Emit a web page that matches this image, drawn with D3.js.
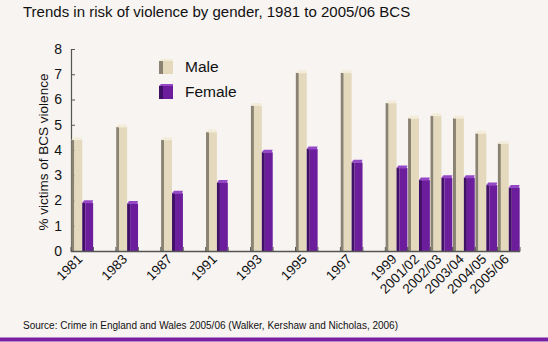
<!DOCTYPE html>
<html>
<head>
<meta charset="utf-8">
<script src="https://cdn.jsdelivr.net/npm/d3@7/dist/d3.min.js"></script>
<style>
html,body{margin:0;padding:0;background:#f7f4f1;}
svg{display:block;font-family:"Liberation Sans",Arial,sans-serif;}
</style>
</head>
<body>
<svg id="chart" width="548" height="342"></svg>
<script>
const categories = ["1981","1983","1987","1991","1993","1995","1997","1999","2001/02","2002/03","2003/04","2004/05","2005/06"];
const male   = [4.45, 4.95, 4.45, 4.75, 5.8, 7.1, 7.1, 5.9, 5.3, 5.4, 5.3, 4.7, 4.3];
const female = [1.95, 1.92, 2.33, 2.75, 3.95, 4.08, 3.55, 3.33, 2.85, 2.94, 2.94, 2.65, 2.55];
const seriesNames = ["Male","Female"];
const yTicks = [0,1,2,3,4,5,6,7,8];
const title = "Trends in risk of violence by gender, 1981 to 2005/06 BCS";
const yLabel = "% victims of BCS violence";
const source = "Source: Crime in England and Wales 2005/06 (Walker, Kershaw and Nicholas, 2006)";

const colors = {
  Male:   {front:"#e4d9bd", side:"#8b8372", top:"#f3ecd9"},
  Female: {front:"#6c1d9c", side:"#401066", top:"#9448c6"}
};

const svg = d3.select("#chart");
svg.append("rect").attr("width",548).attr("height",342).attr("fill","#f7f4f1");

const mLeft = 71, mRight = 520, mTop = 49, mBottom = 251;

// slot domain: the survey years before 1999 are separated by an empty slot
const slotDomain = [];
categories.forEach((c,i) => { slotDomain.push(c); if (i < 7) slotDomain.push("gap" + i); });
const x = d3.scaleBand().domain(slotDomain).range([mLeft, mRight]).padding(0);
const xs = d3.scaleBand().domain(seriesNames).range([0, x.bandwidth()]).paddingInner(0).paddingOuter(0.03);
const y = d3.scaleLinear().domain([0, 8]).range([mBottom, mTop]);

// title
svg.append("text").attr("x",23).attr("y",16.5).attr("font-size",15).attr("fill","#111").text(title);

// y axis
const yAxis = svg.append("g").attr("transform",`translate(${mLeft},0)`)
  .call(d3.axisLeft(y).tickValues(yTicks).tickFormat(d3.format("d")).tickSize(-4).tickPadding(9));
yAxis.select(".domain").attr("stroke","#555").attr("stroke-width",1.2);
yAxis.selectAll(".tick line").attr("stroke","#555");
yAxis.selectAll(".tick text").attr("font-size",14).attr("fill","#111").attr("font-family","Liberation Sans, Arial, sans-serif");

// y label
svg.append("text").attr("transform",`translate(48,${(mTop+mBottom)/2+2}) rotate(-90)`)
  .attr("text-anchor","middle").attr("font-size",13.5).attr("fill","#111").text(yLabel);

// bars
const data = [];
categories.forEach((c,i) => {
  data.push({cat:c, s:"Male", v:male[i]});
  data.push({cat:c, s:"Female", v:female[i]});
});
const side = 3, capH = 2.5;
const bars = svg.append("g");
data.forEach(d => {
  const x0 = x(d.cat) + xs(d.s);
  const bw = xs.bandwidth();
  const yt = y(d.v);
  const c = colors[d.s];
  const g = bars.append("g");
  g.append("rect").attr("x",x0).attr("y",yt+1).attr("width",side).attr("height",mBottom-yt-1).attr("fill",c.side);
  g.append("rect").attr("x",x0+side).attr("y",yt+1).attr("width",bw-side).attr("height",mBottom-yt-1).attr("fill",c.front);
  g.append("path").attr("d",`M${x0},${yt+1}L${x0+2},${yt-capH+1}L${x0+bw},${yt-capH+1}L${x0+bw-1},${yt+1.5}L${x0+side},${yt+1.5}Z`).attr("fill",c.top);
});

// x axis line with group ticks
const xAxisG = svg.append("g");
xAxisG.append("line").attr("x1",mLeft).attr("x2",mRight).attr("y1",mBottom+0.5).attr("y2",mBottom+0.5).attr("stroke","#555").attr("stroke-width",1.5);
categories.forEach(c => {
  [x(c), x(c)+x.bandwidth()].forEach(px => {
    xAxisG.append("line").attr("x1",px).attr("x2",px).attr("y1",mBottom-4).attr("y2",mBottom+0.5).attr("stroke","#555").attr("stroke-width",1);
  });
});
categories.forEach(c => {
  const cx = x(c) + x.bandwidth()/2;
  svg.append("text").attr("transform",`translate(${cx+1},${mBottom+9}) rotate(-45)`)
    .attr("text-anchor","end").attr("font-size",13.5).attr("fill","#111").text(c);
});

// legend
const legend = svg.append("g");
seriesNames.forEach((s,i) => {
  const ly = 60 + i*25;
  const c = colors[s];
  legend.append("rect").attr("x",159).attr("y",ly+1).attr("width",4).attr("height",13).attr("fill",c.side);
  legend.append("rect").attr("x",163).attr("y",ly+1).attr("width",10).attr("height",13).attr("fill",c.front);
  legend.append("path").attr("d",`M159,${ly+1}L161,${ly-1}L173,${ly-1}L173,${ly+1}Z`).attr("fill",c.top);
  legend.append("text").attr("x",185).attr("y",ly+12).attr("font-size",15.5).attr("fill","#111").text(s);
});

// source
svg.append("text").attr("x",23).attr("y",329).attr("font-size",10).attr("fill","#111").text(source);

// bottom band
svg.append("rect").attr("x",0).attr("y",337.5).attr("width",548).attr("height",3.5).attr("fill","#7a1fa3");
svg.append("rect").attr("x",0).attr("y",341).attr("width",548).attr("height",1).attr("fill","#b48ccb");
</script>
</body>
</html>
